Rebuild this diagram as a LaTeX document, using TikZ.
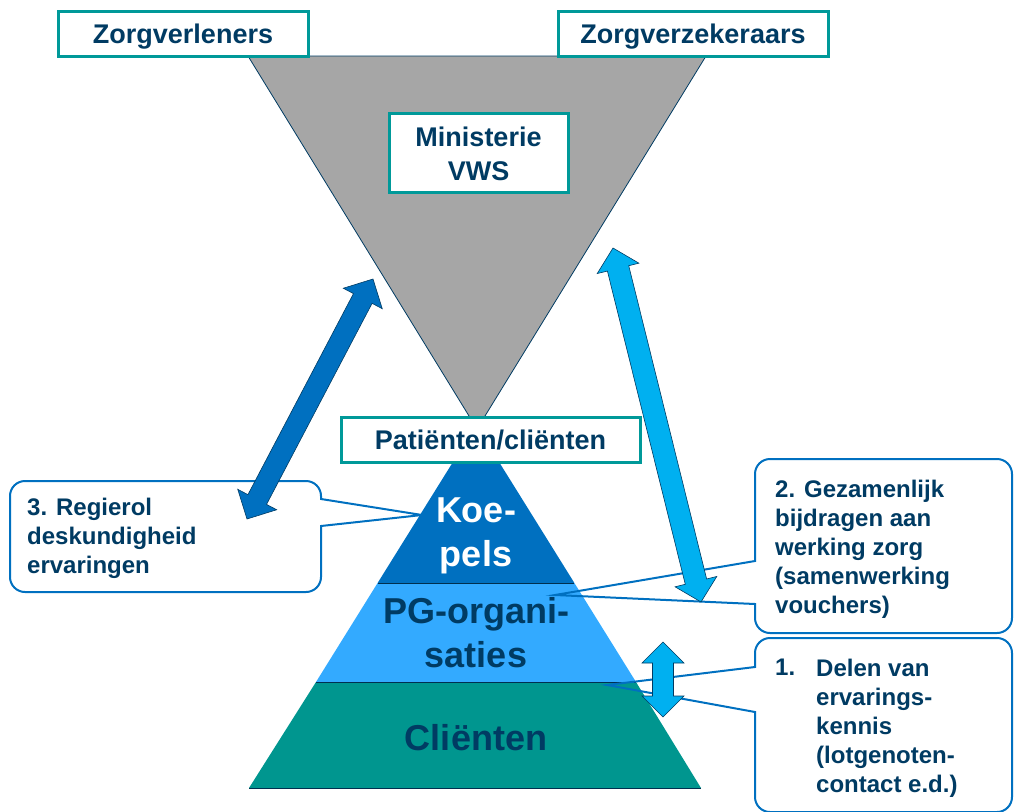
\documentclass[tikz,border=0pt]{standalone}
\usepackage{fontspec}
\setmainfont{Liberation Sans}
\usetikzlibrary{calc}
\definecolor{navy}{RGB}{0,59,99}
\definecolor{boxteal}{RGB}{0,153,153}
\definecolor{koepblue}{RGB}{0,112,192}
\definecolor{pglight}{RGB}{51,170,255}
\definecolor{clteal}{RGB}{0,150,143}
\definecolor{arrlight}{RGB}{0,176,240}
\definecolor{greytri}{RGB}{166,166,166}
\newcommand\dblarrow[6]{%
  \coordinate (da-p) at ($(#2)!#4!(#3)$);
  \coordinate (da-q) at ($(#3)!#4!(#2)$);
  \draw[#1] (#2) -- ($(da-p)!#5!90:(#3)$) -- ($(da-p)!#6!90:(#3)$)
    -- ($(da-q)!#6!-90:(#2)$) -- ($(da-q)!#5!-90:(#2)$) -- (#3)
    -- ($(da-q)!#5!90:(#2)$) -- ($(da-q)!#6!90:(#2)$)
    -- ($(da-p)!#6!-90:(#3)$) -- ($(da-p)!#5!-90:(#3)$) -- cycle;
}
\begin{document}
\begin{tikzpicture}[x=1pt,y=-1pt,
  titlebox/.style={draw=boxteal, line width=3pt, fill=white, inner sep=0pt,
    font=\fontsize{27}{34}\selectfont\bfseries, text=navy,
    text height=19.5pt, text depth=0pt},
  plainbox/.style={draw=boxteal, line width=3pt, fill=white, inner sep=0pt},
  boxtext/.style={anchor=north, align=center, inner sep=0pt, text=navy,
    font=\fontsize{27}{34}\selectfont\bfseries},
  callbox/.style={draw=koepblue, line width=2pt, rounded corners=15pt,
    fill=white, inner sep=0pt},
  calltext/.style={anchor=north west, align=left, inner sep=0pt, text=navy,
    font=\fontsize{24}{29}\selectfont\bfseries},
  pyrtext/.style={anchor=north, align=center, inner sep=0pt,
    font=\fontsize{36}{44}\selectfont\bfseries},
  wedge/.style={draw=koepblue, line width=2pt, line join=miter},
  bigarrow/.style={draw=navy, line width=0.6pt, line join=miter},
  sep/.style={draw=navy!80!black, line width=0.8pt}]
\useasboundingbox (0,0) rectangle (1014,811);

% grey inverted triangle
\coordinate (gtl) at (248,56);
\coordinate (gtr) at (706,56);
\coordinate (gap) at (477,429);
\draw[fill=greytri, draw=navy, line width=0.8pt] (gtl) -- (gtr) -- (gap) -- cycle;

% pyramid
\coordinate (pap) at (476,425);
\coordinate (pbl) at (249,788);
\coordinate (pbr) at (701,788);
\coordinate (k1) at (377.6,583); \coordinate (k2) at (574.4,583);
\coordinate (q1) at (316,682);   \coordinate (q2) at (636,682);
\fill[koepblue] (pap) -- (k1) -- (k2) -- cycle;
\fill[pglight] (k1) -- (k2) -- (q2) -- (q1) -- cycle;
\fill[clteal] (q1) -- (q2) -- (pbr) -- (pbl) -- cycle;
\draw[sep] (k1) -- (k2);
\draw[sep] (q1) -- (q2);
\draw[sep] (pbl) -- (pbr);

\node[pyrtext, text=white] (koep) at (476,498) {Koe-\\pels};
\node[pyrtext, text=navy] (pg) at (476,597.5) {PG-organi-\\saties};
\node[pyrtext, text=navy] (cl) at (476,724.5) {Cliënten};

% title boxes
\node[titlebox, minimum width=250pt, minimum height=45pt] (zv) at (183,33.5) {Zorgverleners};
\node[titlebox, minimum width=270pt, minimum height=45pt] (zz) at (693,33.5) {Zorgverzekeraars};
\node[plainbox, minimum width=179pt, minimum height=79pt] (min) at (478.5,152.5) {};
\node[boxtext] (mint) at (min.center |- 0,126.5) {Ministerie\\VWS};
\node[titlebox, minimum width=299pt, minimum height=45pt] (pat) at (490.5,439.5) {Patiënten/cliënten};

% callout 3
\node[callbox, minimum width=311pt, minimum height=111pt] (c3) at (165.5,536.5) {};
\coordinate (c3a) at (321,499); \coordinate (c3b) at (321,526);
\coordinate (c3t) at (422,515);
\fill[white] (318.5,500) rectangle (323.5,525);
\draw[wedge] (c3a) -- (c3t) -- (c3b);
\node[calltext] (t3) at (27,497.8) {3. Regierol\\deskundigheid\\ervaringen};

% callout 2
\node[callbox, minimum width=257pt, minimum height=174pt] (c2) at (883.5,546) {};
\coordinate (c2a) at (755,561); \coordinate (c2b) at (755,604);
\coordinate (c2t) at (555,595);
\fill[white] (752.5,562) rectangle (757.5,603);
\draw[wedge] (c2a) -- (c2t) -- (c2b);
\node[calltext] (t2) at (775,479.8) {2. Gezamenlijk\\bijdragen aan\\werking zorg\\(samenwerking\\vouchers)};

% callout 1
\node[callbox, minimum width=257pt, minimum height=174pt] (c1) at (883.5,725) {};
\coordinate (c1a) at (755,667); \coordinate (c1b) at (755,712);
\coordinate (c1t) at (607,685);
\fill[white] (752.5,668) rectangle (757.5,711);
\draw[wedge] (c1a) -- (c1t) -- (c1b);
\node[calltext] (t1n) at (775,658.8) {1.};
\node[calltext] (t1) at (816,658.8) {Delen van\\ervarings-\\kennis\\(lotgenoten-\\contact e.d.)};

% double arrows
\coordinate (a1s) at (373,279); \coordinate (a1e) at (247,519);
\coordinate (a2s) at (613,248); \coordinate (a2e) at (701,602);
\coordinate (a3s) at (663,642); \coordinate (a3e) at (663,717);
\dblarrow{bigarrow, fill=koepblue}{a1s}{a1e}{22pt}{22pt}{10.5pt}
\dblarrow{bigarrow, fill=arrlight}{a2s}{a2e}{21pt}{21.5pt}{11pt}
\dblarrow{bigarrow, fill=arrlight}{a3s}{a3e}{21pt}{21pt}{10.5pt}
\end{tikzpicture}
\end{document}
